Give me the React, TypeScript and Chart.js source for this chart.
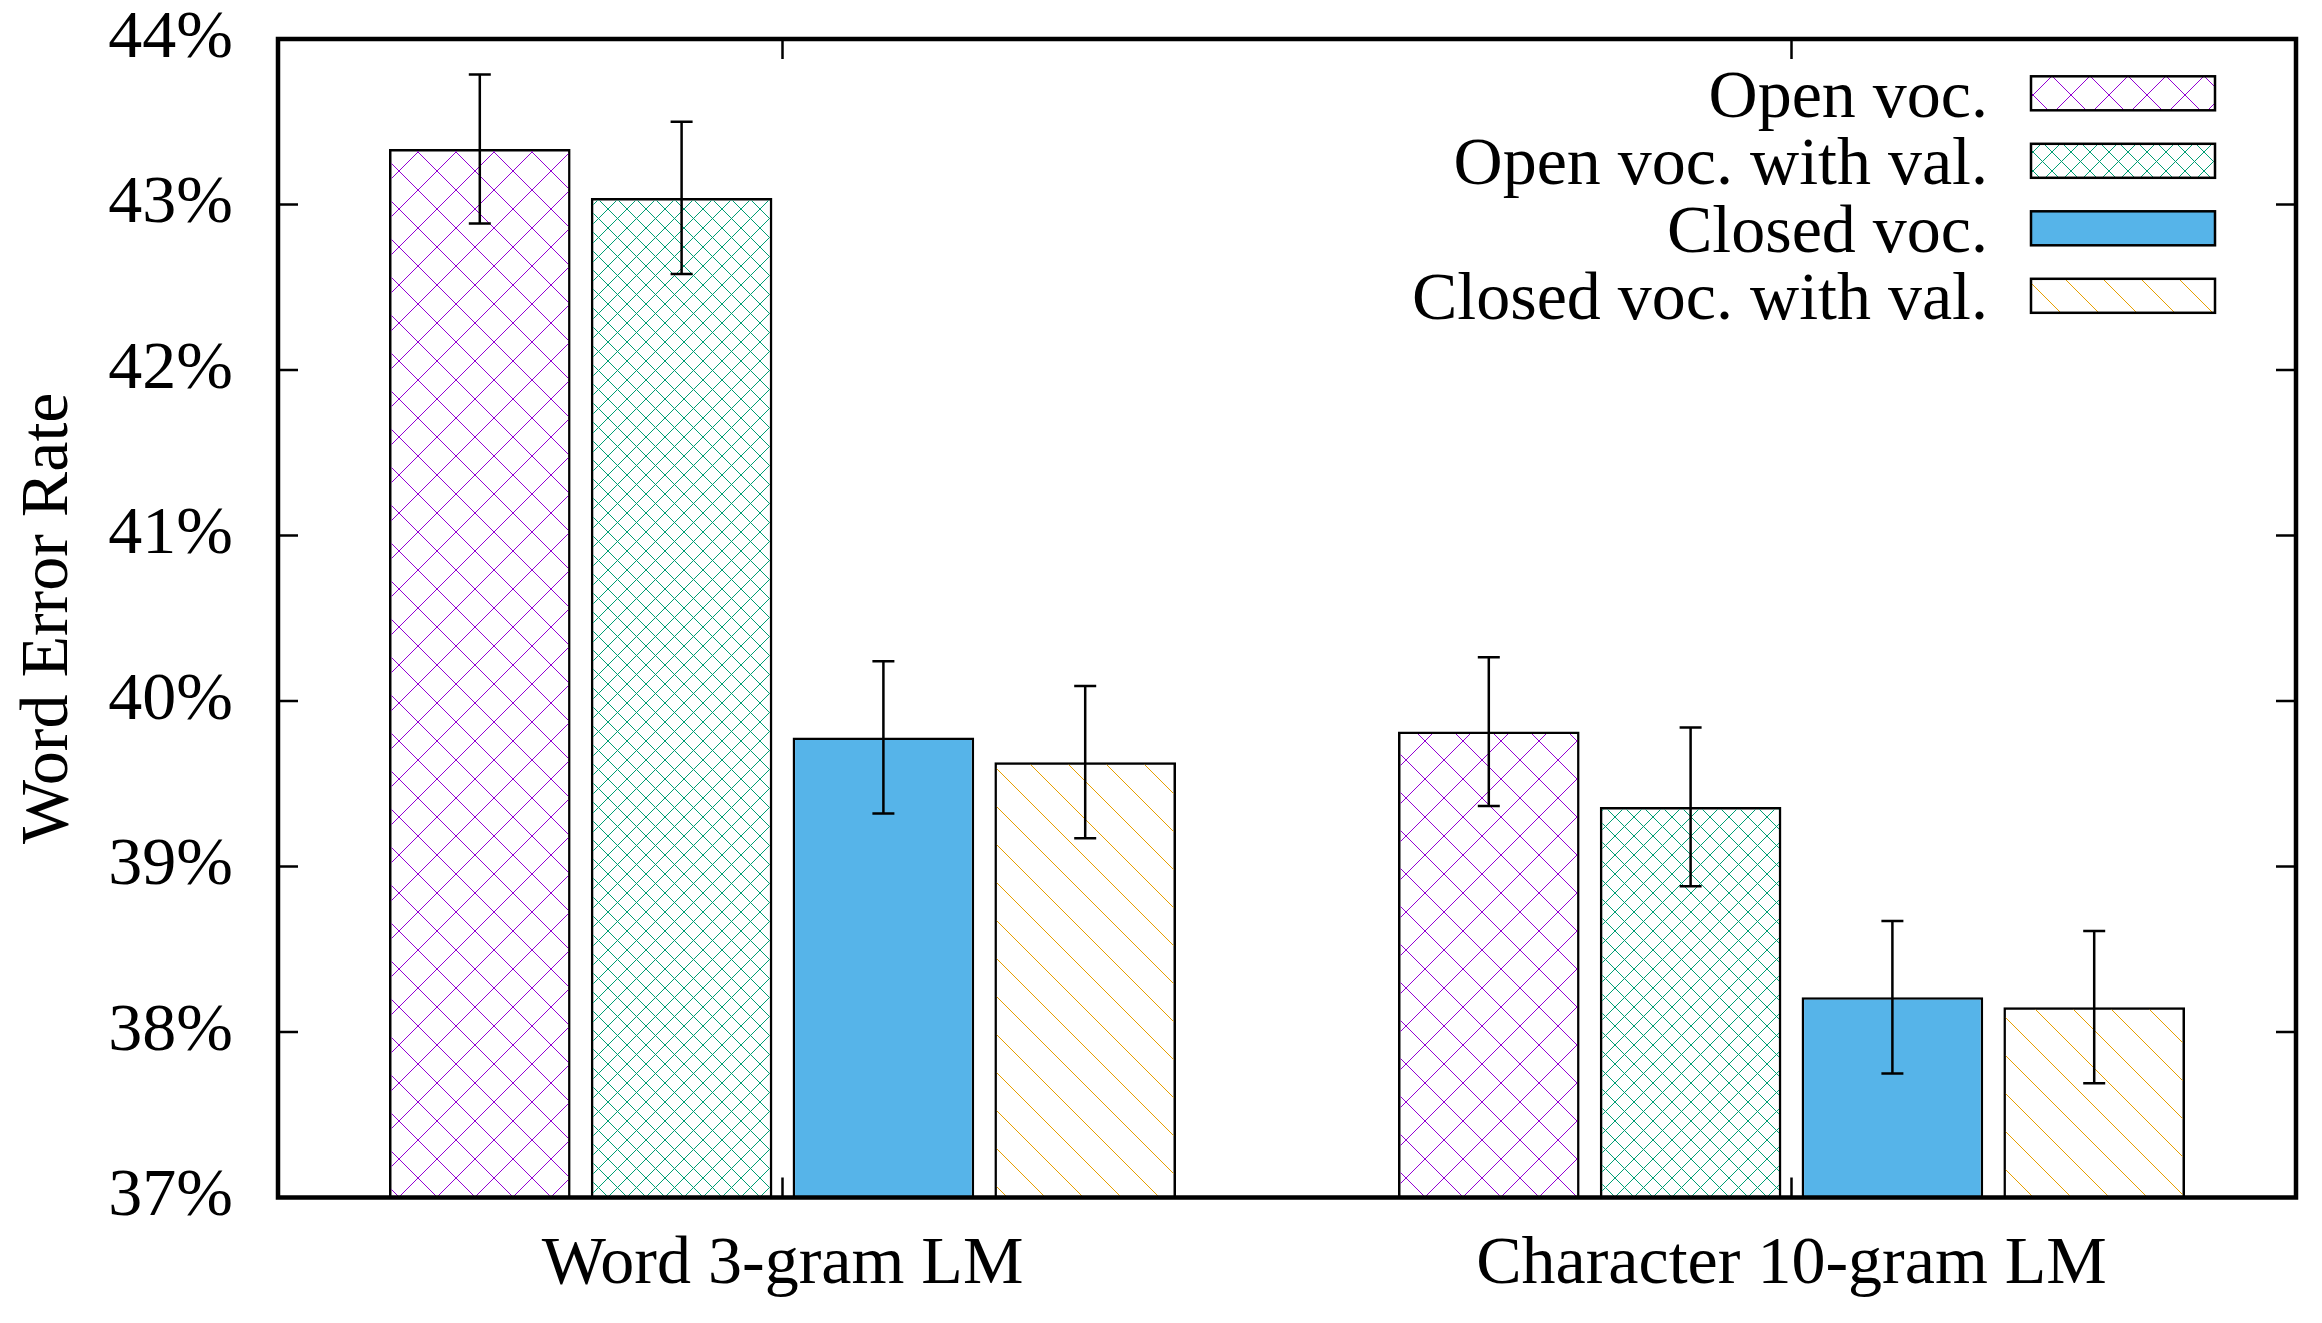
import { useEffect, useRef } from "react"
import { Chart, type ChartConfiguration, type Plugin, registerables } from "chart.js"

Chart.register(...registerables)

const categories = ["Word 3-gram LM", "Character 10-gram LM"]
const seriesNames = ["Open voc.", "Open voc. with val.", "Closed voc.", "Closed voc. with val."]

// bar heights (%)
const openVoc = [43.335, 39.815]
const openVocVal = [43.04, 39.36]
const closedVoc = [39.78, 38.21]
const closedVocVal = [39.63, 38.15]

// error bar half widths (%)
const openVocErr = [0.45, 0.45]
const openVocValErr = [0.46, 0.48]
const closedVocErr = [0.46, 0.46]
const closedVocValErr = [0.46, 0.46]

const yMin = 37
const yMax = 44

const FONT = "'Liberation Serif', 'Times New Roman', serif"
const SIZE = 68

type Hatch = "cross" | "back" | "solid"

function makePattern(kind: Hatch, color: string, size: number): CanvasPattern | string {
  if (kind === "solid") return color
  const tile = document.createElement("canvas")
  tile.width = size
  tile.height = size
  const t = tile.getContext("2d")!
  t.strokeStyle = color
  t.lineWidth = 1
  t.beginPath()
  for (const dx of [-size, 0, size]) {
    // "\" lines
    t.moveTo(dx, 0)
    t.lineTo(dx + size, size)
    if (kind === "cross") {
      // "/" lines
      t.moveTo(dx, size)
      t.lineTo(dx + size, 0)
    }
  }
  t.stroke()
  return t.createPattern(tile, "repeat")!
}

export default function App() {
  const chartRef = useRef<HTMLCanvasElement>(null)
  const chartInstance = useRef<Chart | null>(null)

  useEffect(() => {
    if (!chartRef.current) return
    const ctx = chartRef.current.getContext("2d")
    if (!ctx) return

    if (chartInstance.current) {
      chartInstance.current.destroy()
    }

    const fills = [
      makePattern("cross", "#9400d3", 38),
      makePattern("cross", "#009e73", 19),
      makePattern("solid", "#56b4e9", 0),
      makePattern("back", "#e69f00", 38),
    ]
    const values = [openVoc, openVocVal, closedVoc, closedVocVal]
    const errors = [openVocErr, openVocValErr, closedVocErr, closedVocValErr]

    // error bars, frame and inward ticks
    const framePlugin: Plugin<"bar"> = {
      id: "frame",
      afterDatasetsDraw(chart) {
        const c = chart.ctx
        const a = chart.chartArea
        const xs = chart.scales.x
        const ys = chart.scales.y
        c.save()
        c.strokeStyle = "#000"
        c.lineCap = "butt"

        c.lineWidth = 2.5
        values.forEach((vals, i) => {
          const meta = chart.getDatasetMeta(i)
          meta.data.forEach((el, j) => {
            const top = ys.getPixelForValue(vals[j] + errors[i][j])
            const bot = ys.getPixelForValue(vals[j] - errors[i][j])
            c.beginPath()
            c.moveTo(el.x, top)
            c.lineTo(el.x, bot)
            c.moveTo(el.x - 11, top)
            c.lineTo(el.x + 11, top)
            c.moveTo(el.x - 11, bot)
            c.lineTo(el.x + 11, bot)
            c.stroke()
          })
        })

        c.lineWidth = 2.5
        c.beginPath()
        ys.ticks.forEach((t) => {
          const py = ys.getPixelForValue(t.value)
          c.moveTo(a.left, py)
          c.lineTo(a.left + 20, py)
          c.moveTo(a.right, py)
          c.lineTo(a.right - 20, py)
        })
        categories.forEach((_, i) => {
          const px = xs.getPixelForValue(i)
          c.moveTo(px, a.bottom)
          c.lineTo(px, a.bottom - 20)
          c.moveTo(px, a.top)
          c.lineTo(px, a.top + 20)
        })
        c.stroke()

        c.lineWidth = 4.5
        c.strokeRect(a.left, a.top, a.right - a.left, a.bottom - a.top)
        c.restore()
      },
      afterDraw(chart) {
        const c = chart.ctx
        c.save()
        c.font = `${SIZE}px ${FONT}`
        c.textAlign = "right"
        c.textBaseline = "alphabetic"
        c.fillStyle = "#000"
        seriesNames.forEach((name, i) => {
          const cy = 93.3 + i * 67.5
          c.fillText(name, 1988, cy + 23.2)
          c.fillStyle = fills[i] as any
          c.fillRect(2031, cy - 17, 184, 34)
          c.lineWidth = 2.5
          c.strokeStyle = "#000"
          c.strokeRect(2031, cy - 17, 184, 34)
          c.fillStyle = "#000"
        })
        c.restore()
      },
    }

    const config: ChartConfiguration<"bar"> = {
      type: "bar",
      data: {
        labels: categories,
        datasets: seriesNames.map((name, i) => ({
          label: name,
          data: values[i],
          backgroundColor: fills[i] as any,
          borderColor: "#000",
          borderWidth: 2.5,
          borderSkipped: "start",
          categoryPercentage: 0.8,
          barPercentage: 0.9,
        })),
      },
      options: {
        responsive: true,
        maintainAspectRatio: false,
        animation: false,
        layout: {
          padding: { top: 39, right: 26, left: 0, bottom: 0 },
        },
        scales: {
          x: {
            grid: { display: false, drawTicks: false },
            border: { display: false },
            ticks: {
              color: "#000",
              padding: 27,
              font: { family: FONT, size: SIZE, lineHeight: 1.2 },
            },
            afterFit: (s) => {
              s.height = 125.5
              s.paddingLeft = 0
              s.paddingRight = 0
            },
          },
          y: {
            min: yMin,
            max: yMax,
            grid: { display: false, drawTicks: false },
            border: { display: false },
            ticks: {
              stepSize: 1,
              color: "#000",
              padding: 45,
              font: { family: FONT, size: SIZE, lineHeight: 1 },
              callback: (v) => `${v}%`,
            },
            title: {
              display: true,
              text: "Word Error Rate",
              color: "#000",
              padding: { top: 8, bottom: 0 },
              font: { family: FONT, size: SIZE, lineHeight: 1.2 },
            },
            afterFit: (s) => {
              s.width = 278
              s.paddingTop = 0
              s.paddingBottom = 0
            },
          },
        },
        plugins: {
          legend: { display: false },
          tooltip: { enabled: false },
        },
      },
      plugins: [framePlugin],
    }

    chartInstance.current = new Chart(ctx, config)

    return () => {
      if (chartInstance.current) {
        chartInstance.current.destroy()
        chartInstance.current = null
      }
    }
  }, [])

  return (
    <div style={{ position: "absolute", left: 0, top: 0, width: 2322, height: 1323, background: "#fff" }}>
      <canvas ref={chartRef} />
    </div>
  )
}
